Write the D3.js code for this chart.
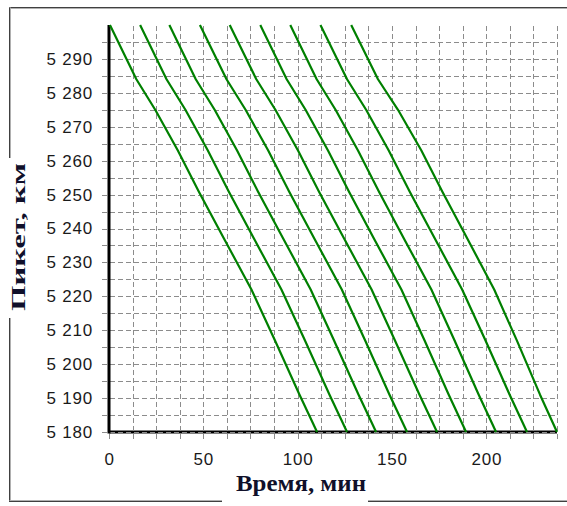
<!DOCTYPE html>
<html>
<head>
<meta charset="utf-8">
<script src="https://cdn.jsdelivr.net/npm/d3@7"></script>
<style>
  html, body { margin: 0; padding: 0; background: #fff; }
  svg { display: block; }
</style>
</head>
<body>
<div id="chart"></div>
<script>
// stations along the line (km), top to bottom
const stations = [5300, 5284, 5275, 5263, 5251, 5237, 5222, 5207, 5191, 5180];

// time (min) of each train at each station
const train1 = [0.5, 14.5, 24.5, 36.5, 47.5, 61, 75.5, 88, 101, 110.3];
const train2 = [16.5, 30.5, 40.5, 52.4, 63.4, 76.9, 91.4, 103.9, 116.9, 126.2];
const train3 = [32, 46, 56, 67.9, 78.9, 92.4, 106.9, 119.3, 132.3, 141.6];
const train4 = [48.2, 62.3, 72.4, 84.4, 95.4, 108.9, 123.4, 135.8, 148.7, 158];
const train5 = [64, 78.1, 88.2, 100.2, 111.2, 124.7, 139.2, 151.6, 164.6, 173.9];
const train6 = [80.2, 94.2, 104.2, 116.1, 127.1, 140.5, 155, 167.3, 180.1, 189.3];
const train7 = [96.1, 110.1, 120.1, 132, 143, 156.4, 170.9, 183.2, 196, 205.2];
const train8 = [112.1, 126.2, 136.3, 148.3, 159.3, 172.8, 187.2, 199.6, 212.4, 221.6];
const train9 = [128.4, 142.6, 153.2, 165.6, 176.6, 190, 204.2, 216.2, 228.5, 237.5];
const trains = [train1, train2, train3, train4, train5, train6, train7, train8, train9];

const xTickLabels = [0, 50, 100, 150, 200];
const yTickLabels = [5180, 5190, 5200, 5210, 5220, 5230, 5240, 5250, 5260, 5270, 5280, 5290];

const width = 567, height = 506;
const plotLeft = 109, plotRight = 557, plotTop = 25, plotBottom = 432;

const svg = d3.select('#chart').append('svg')
  .attr('width', width)
  .attr('height', height);

const x = d3.scaleLinear().domain([0, 237.5]).range([plotLeft, plotRight]);
const y = d3.scaleLinear().domain([5180, 5300]).range([plotBottom, plotTop]);

const locale = d3.formatLocale({ decimal: ',', thousands: ' ', grouping: [3], currency: ['', ''] });
const fmt = locale.format(',d');

// outer frame (etched look)
const frame = svg.append('g').attr('fill', 'none');
function frameLine(x1, y1, x2, y2, dx, dy) {
  frame.append('line').attr('x1', x1).attr('y1', y1).attr('x2', x2).attr('y2', y2)
    .attr('stroke', '#404040').attr('stroke-width', 1);
  frame.append('line').attr('x1', x1 + dx).attr('y1', y1 + dy).attr('x2', x2 + dx).attr('y2', y2 + dy)
    .attr('stroke', '#b0b0b0').attr('stroke-width', 1);
}
frameLine(9.5, 7.5, 567, 7.5, 0, 1);
frameLine(9.5, 7.5, 9.5, 158, 1, 0);
frameLine(9.5, 318, 9.5, 502, 1, 0);
frameLine(9.5, 501.5, 222, 501.5, 0, -1);
frameLine(368, 501.5, 567, 501.5, 0, -1);

// grid
const gridX = d3.range(0, 237.6, 12.5);
const gridY = d3.range(5180, 5301, 5);

svg.append('rect')
  .attr('x', plotLeft).attr('y', plotBottom - 1.5)
  .attr('width', plotRight - plotLeft).attr('height', 3)
  .attr('fill', '#000');

const grid = svg.append('g')
  .attr('stroke', '#8c8c8c')
  .attr('stroke-width', 1)
  .attr('stroke-dasharray', '5,3');

grid.selectAll('line.h')
  .data(gridY.filter(d => d < 5300))
  .enter().append('line')
  .attr('class', 'h')
  .attr('x1', plotLeft - 7)
  .attr('x2', plotRight)
  .attr('y1', d => Math.round(y(d)) + 0.5)
  .attr('y2', d => Math.round(y(d)) + 0.5);

grid.selectAll('line.v')
  .data(gridX.filter(d => d > 0))
  .enter().append('line')
  .attr('class', 'v')
  .attr('y1', plotBottom + 7)
  .attr('y2', plotTop)
  .attr('x1', d => Math.round(x(d)) + 0.5)
  .attr('x2', d => Math.round(x(d)) + 0.5);

// tick at the origin
svg.append('line')
  .attr('x1', plotLeft + 0.5).attr('x2', plotLeft + 0.5)
  .attr('y1', plotBottom).attr('y2', plotBottom + 7)
  .attr('stroke', '#8c8c8c');

// left axis line
svg.append('rect')
  .attr('x', plotLeft - 1.5).attr('y', plotTop)
  .attr('width', 3).attr('height', plotBottom - plotTop + 1.5)
  .attr('fill', '#000');

// train paths
const line = d3.line()
  .x(d => x(d[0]))
  .y(d => y(d[1]));

svg.append('g')
  .selectAll('path')
  .data(trains)
  .enter().append('path')
  .attr('fill', 'none')
  .attr('stroke', '#008000')
  .attr('stroke-width', 2.2)
  .attr('stroke-linejoin', 'round')
  .attr('d', t => line(t.map((v, i) => [v, stations[i]])));

// tick labels via axes
const yAxis = d3.axisLeft(y).tickValues(yTickLabels).tickFormat(fmt).tickSize(0).tickPadding(16);
const gy = svg.append('g').attr('transform', `translate(${plotLeft},0)`).call(yAxis);
gy.select('.domain').remove();
gy.selectAll('text')
  .attr('font-family', 'Liberation Sans, Arial, sans-serif')
  .attr('font-size', 17)
  .attr('letter-spacing', 0.8)
  .attr('fill', '#1a1a1a');

const xAxis = d3.axisBottom(x).tickValues(xTickLabels).tickFormat(d3.format('d')).tickSize(0).tickPadding(21);
const gx = svg.append('g').attr('transform', `translate(0,${plotBottom})`).call(xAxis);
gx.select('.domain').remove();
gx.selectAll('text')
  .attr('font-family', 'Liberation Sans, Arial, sans-serif')
  .attr('font-size', 17)
  .attr('letter-spacing', 0.8)
  .attr('fill', '#1a1a1a');

// axis titles
svg.append('text')
  .attr('x', 301)
  .attr('y', 491)
  .attr('text-anchor', 'middle')
  .attr('font-family', 'Liberation Serif, Times New Roman, serif')
  .attr('font-weight', 'bold')
  .attr('font-size', 23)
  .attr('textLength', 130)
  .attr('lengthAdjust', 'spacingAndGlyphs')
  .attr('fill', '#10102a')
  .text('Время, мин');

svg.append('text')
  .attr('transform', 'translate(25,237) rotate(-90)')
  .attr('text-anchor', 'middle')
  .attr('font-family', 'Liberation Serif, Times New Roman, serif')
  .attr('font-weight', 'bold')
  .attr('font-size', 19)
  .attr('textLength', 148)
  .attr('lengthAdjust', 'spacingAndGlyphs')
  .attr('fill', '#10102a')
  .text('Пикет, км');
</script>
</body>
</html>
